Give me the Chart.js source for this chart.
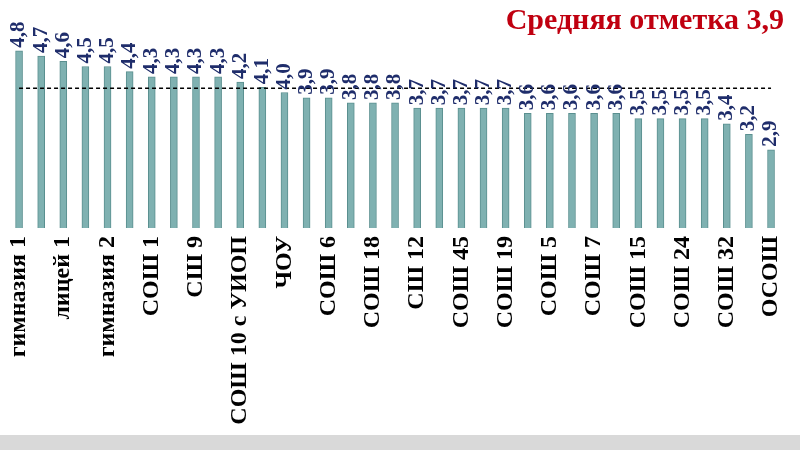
<!DOCTYPE html>
<html>
<head>
<meta charset="utf-8">
<script src="https://cdn.jsdelivr.net/npm/chart.js@4"></script>
<style>
  body { margin: 0; background: #fff; }
  #wrap { width: 800px; height: 435px; position: relative; }
  #strip { width: 800px; height: 15px; background: #d9d9d9; }
</style>
</head>
<body>
<div id="wrap"><canvas id="chart"></canvas></div>
<div id="strip"></div>
<script>
const schools = [
  "гимназия 1", "", "лицей 1", "", "гимназия 2", "", "СОШ 1", "", "СШ 9", "",
  "СОШ 10 с УИОП", "", "ЧОУ", "", "СОШ 6", "", "СОШ 18", "", "СШ 12", "",
  "СОШ 45", "", "СОШ 19", "", "СОШ 5", "", "СОШ 7", "", "СОШ 15", "",
  "СОШ 24", "", "СОШ 32", "", "ОСОШ"
];
const marks = [
  4.8, 4.7, 4.6, 4.5, 4.5, 4.4, 4.3, 4.3, 4.3, 4.3,
  4.2, 4.1, 4.0, 3.9, 3.9, 3.8, 3.8, 3.8, 3.7, 3.7,
  3.7, 3.7, 3.7, 3.6, 3.6, 3.6, 3.6, 3.6, 3.5, 3.5,
  3.5, 3.5, 3.4, 3.2, 2.9
];
const average = 3.9;
const titleText = "Средняя отметка 3,9";

const overlay = {
  id: "overlay",
  afterDatasetsDraw(chart) {
    const ctx = chart.ctx;
    const x = chart.scales.x, y = chart.scales.y;
    // dashed average line (drawn a bit above the bar tops, like the original)
    const ly = y.getPixelForValue(average + 0.18);
    ctx.save();
    ctx.setLineDash([4, 3]);
    ctx.strokeStyle = "#000";
    ctx.lineWidth = 1.5;
    ctx.beginPath();
    ctx.moveTo(x.getPixelForValue(0), ly);
    ctx.lineTo(x.getPixelForValue(marks.length - 1), ly);
    ctx.stroke();
    ctx.restore();
    // value labels
    const meta = chart.getDatasetMeta(0);
    ctx.save();
    ctx.fillStyle = "#1f2d6b";
    ctx.font = "bold 21px 'Liberation Serif', serif";
    ctx.textAlign = "left";
    ctx.textBaseline = "middle";
    meta.data.forEach((bar, i) => {
      ctx.save();
      ctx.translate(bar.x, bar.y - 3);
      ctx.rotate(-Math.PI / 2);
      ctx.fillText(marks[i].toFixed(1).replace(".", ","), 0, 0);
      ctx.restore();
    });
    ctx.restore();
    // title
    ctx.save();
    ctx.fillStyle = "#c00010";
    ctx.font = "bold 30px 'Liberation Serif', serif";
    ctx.textAlign = "right";
    ctx.textBaseline = "middle";
    ctx.fillText(titleText, 784, 21);
    ctx.restore();
  }
};

const ctx = document.getElementById("chart").getContext("2d");
new Chart(ctx, {
  type: "bar",
  data: {
    labels: schools,
    datasets: [{
      data: marks,
      backgroundColor: "#7fb1b1",
      borderColor: "#5a8f8f",
      borderWidth: 1,
      barThickness: 7
    }]
  },
  options: {
    responsive: true,
    maintainAspectRatio: false,
    animation: false,
    layout: { padding: { top: 30, left: 8, right: 12, bottom: 0 } },
    plugins: { legend: { display: false }, tooltip: { enabled: false } },
    scales: {
      x: {
        grid: { display: false },
        border: { display: false },
        afterFit(s) { s.height = 207; },
        ticks: {
          autoSkip: false,
          maxRotation: 90,
          minRotation: 90,
          color: "#000",
          padding: 0,
          font: { family: "'Liberation Serif', serif", size: 24, weight: "bold" }
        }
      },
      y: {
        display: false,
        min: 1.4,
        max: 5.2
      }
    }
  },
  plugins: [overlay]
});
</script>
</body>
</html>
